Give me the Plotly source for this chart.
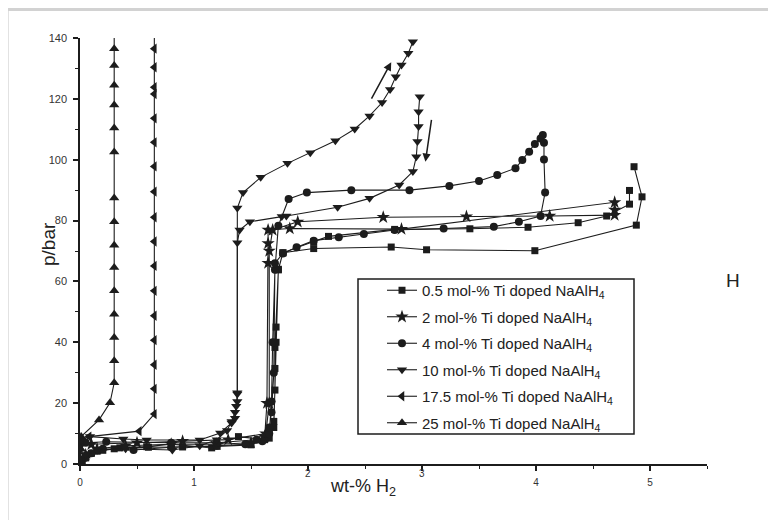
import plotly.graph_objects as go

# ---------------- data ----------------
series_names = [
    "0.5 mol-% Ti doped NaAlH<sub>4</sub>",
    "2 mol-% Ti doped NaAlH<sub>4</sub>",
    "4 mol-% Ti doped NaAlH<sub>4</sub>",
    "10 mol-% Ti doped NaAlH<sub>4</sub>",
    "17.5 mol-% Ti doped NaAlH<sub>4</sub>",
    "25 mol-% Ti doped NaAlH<sub>4</sub>",
]
series_symbols = ["square", "star", "circle", "triangle-down", "triangle-left", "triangle-up"]

ti05_x = [4.82, 4.82, 4.62, 4.37, 3.93, 3.42, 2.76, 2.18, 2.05, 1.78, 1.74, 1.72, 1.71, 1.71, 1.71, 1.70, 1.62,
          1.39, 1.155, 0.80, 0.585, 0.35, 0.20, 0.10, 0.05, 0.02,
          0.06, 0.15, 0.30, 0.60, 0.90, 1.20, 1.50, 1.66, 1.70, 1.72, 1.74, 1.78, 2.05, 2.73, 3.04, 3.99, 4.88, 4.93, 4.86]
ti05_y = [89.9, 85.4, 81.5, 79.3, 77.8, 77.3, 77.1, 74.8, 73.1, 69.4, 63.8, 45.0, 38.3, 31.4, 24.3, 14.0, 8.0,
          9.0, 5.3, 6.5, 5.7, 5.3, 4.5, 3.5, 2.0, 1.0,
          3.0, 4.2, 5.0, 5.5, 5.6, 5.8, 6.3, 8.5, 12.0, 40.0, 64.0, 69.4, 70.8, 71.3, 70.4, 70.1, 78.5, 87.8, 97.7]

ti2_x = [0.00, 0.05, 0.15, 0.40, 0.80, 1.20, 1.50, 1.62, 1.64, 1.65, 1.65, 1.65, 1.84, 2.82, 4.69,
         4.69, 4.69, 4.12, 3.39, 2.66, 1.91, 1.69, 1.66, 1.66, 1.63, 1.30, 0.90, 0.50, 0.10, 0.00]
ti2_y = [1.0, 3.0, 5.0, 6.0, 6.5, 6.5, 7.0, 9.0, 20.0, 66.0, 72.5, 76.9, 77.4, 77.2, 86.0,
         83.5, 81.8, 81.5, 81.3, 81.1, 79.6, 76.9, 70.0, 20.0, 10.0, 8.0, 7.5, 7.0, 6.5, 6.0]

ti4_x = [0.00, 0.04, 0.10, 0.20, 0.47, 0.80, 1.20, 1.45, 1.60, 1.66, 1.68, 1.69, 1.71, 1.74, 1.83, 1.99, 2.38,
         2.89, 3.24, 3.50, 3.66, 3.82, 3.88, 3.94, 3.99, 4.04, 4.06, 4.07, 4.07, 4.08, 4.04, 3.85, 3.63,
         3.19, 2.76, 2.49, 2.27, 2.05, 1.90, 1.78, 1.71, 1.70, 1.68, 1.66, 1.55, 1.20, 0.80, 0.23, 0.05, 0.00]
ti4_y = [0.5, 2.0, 3.5, 5.0, 4.6, 5.5, 6.0, 6.5, 7.5, 10.0, 20.5, 40.0, 63.8, 78.3, 87.1, 89.2, 90.0,
         90.0, 91.4, 93.0, 95.0, 97.2, 99.9, 102.6, 105.2, 107.0, 108.1, 105.6, 100.1, 89.2, 81.5, 79.6, 78.0,
         77.4, 76.9, 75.6, 74.5, 73.4, 71.2, 69.2, 66.0, 30.0, 17.0, 12.0, 8.0, 7.0, 7.0, 7.3, 7.0, 6.5]

ti10_x = [0.00, 0.05, 0.15, 0.40, 0.81, 1.05, 1.20, 1.29, 1.33, 1.36, 1.38, 1.38, 1.38, 1.43, 1.585, 1.82,
          2.02, 2.24, 2.41, 2.54, 2.65, 2.72, 2.77, 2.82, 2.88, 2.92, None,
          2.98, 2.97, 2.97, 2.96, 2.95, 2.92, 2.80, 2.54, 2.26, 1.81, 1.77, 1.49, 1.40, 1.38, 1.38, 1.37,
          1.36, 1.33, 1.23, 1.05, 0.585, 0.38, 0.088, 0.01]
ti10_y = [1.0, 3.0, 4.5, 5.0, 4.6, 6.0, 8.0, 11.0, 14.0, 17.0, 20.5, 23.4, 84.1, 89.2, 94.2, 98.8,
          102.3, 106.2, 110.1, 114.4, 118.8, 123.1, 127.3, 131.1, 135.0, 138.8, None,
          120.7, 115.8, 110.9, 106.0, 101.0, 96.1, 91.7, 87.3, 84.4, 81.5, 81.3, 79.6, 76.9, 72.7, 23.0, 19.0,
          15.0, 13.5, 10.2, 7.9, 7.9, 8.2, 9.0, 8.0]

ti175_x = [0.00, 0.005, 0.08, 0.52, 0.652, 0.652, 0.652, 0.652, 0.652, 0.652, 0.652, 0.652, 0.652, 0.652,
           0.652, 0.652, 0.652, 0.652, 0.652, 0.652, 0.652, 0.652]
ti175_y = [1.0, 5.0, 9.0, 10.8, 16.4, 24.7, 32.6, 40.7, 48.7, 56.9, 65.1, 73.1, 81.1, 89.5,
           97.8, 105.7, 113.6, 121.6, 123.8, 130.4, 136.5, 150.0]

ti25_x = [0.00, 0.005, 0.01, 0.167, 0.263, 0.30, 0.30, 0.30, 0.30, 0.30, 0.30, 0.30, 0.30, 0.30,
          0.30, 0.30, 0.30, 0.30, 0.30, 0.30, 0.30]
ti25_y = [1.0, 5.0, 9.0, 14.5, 20.1, 26.7, 33.9, 41.6, 49.2, 56.9, 64.6, 71.9, 79.6, 87.4,
          102.5, 110.4, 118.0, 124.5, 131.0, 136.5, 150.0]

series_x = [ti05_x, ti2_x, ti4_x, ti10_x, ti175_x, ti25_x]
series_y = [ti05_y, ti2_y, ti4_y, ti10_y, ti175_y, ti25_y]

x_ticks = [0, 1, 2, 3, 4, 5]
x_ticktext = ["0", "1", "", "", "4", "5"]
x_raised_labels = [2, 3]          # these two labels sit higher in the scanned original
y_ticks = [0, 20, 40, 60, 80, 100, 120, 140]

# arrows: (tail x, tail y, head x, head y)
arrow_up = (2.55, 119.6, 2.73, 132.0)
arrow_down = (3.085, 113.6, 3.03, 99.3)

# ---------------- figure ----------------
FONT = "Arial, Liberation Sans, Helvetica, sans-serif"
INK = "#1c1c1c"
marker_sizes = [7, 10, 8, 9, 9, 9]

fig = go.Figure()
for i, name in enumerate(series_names):
    fig.add_trace(go.Scatter(
        x=series_x[i], y=series_y[i], name=name, mode="lines+markers",
        line=dict(color=INK, width=1.1),
        marker=dict(symbol=series_symbols[i], size=marker_sizes[i], color=INK, line=dict(width=0)),
        connectgaps=False, legendgroup="g%d" % i, cliponaxis=True,
    ))

for tx, ty, hx, hy in (arrow_up, arrow_down):
    fig.add_annotation(x=hx, y=hy, ax=tx, ay=ty, xref="x", yref="y", axref="x", ayref="y",
                       showarrow=True, arrowhead=2, arrowsize=1.1, arrowwidth=1.5,
                       arrowcolor=INK, text="")

# plot area on screen: x 80..707, y 38..464 (the page body adds an 8px offset)
L, T, PW, PH = 72, 30, 627, 426
W, H = 776, 520


def sx(screen_x):
    return (screen_x - 80) / PW


def sy(screen_y):
    return (464 - screen_y) / PH


for v in x_raised_labels:
    fig.add_annotation(x=v, y=sy(473), xref="x", yref="paper", text=str(v), showarrow=False,
                       xanchor="center", yanchor="middle", font=dict(family=FONT, size=10, color="#333"))

# scan frame (gray shadow bands on top and left)
fig.add_shape(type="rect", xref="paper", yref="paper", x0=sx(0), x1=sx(800), y0=sy(11), y1=sy(0),
              fillcolor="#d2d2d2", line=dict(width=0), layer="below")
fig.add_shape(type="rect", xref="paper", yref="paper", x0=sx(0), x1=sx(9), y0=sy(530), y1=sy(11),
              fillcolor="#e2e2e2", line=dict(width=0), layer="below")

# legend box
fig.add_shape(type="rect", xref="paper", yref="paper", x0=sx(358), x1=sx(634), y0=sy(434), y1=sy(279),
              fillcolor="rgba(0,0,0,0)", line=dict(color=INK, width=1.5))

fig.add_annotation(x=sx(48), y=sy(244), xref="paper", yref="paper", text="p/bar", textangle=-90,
                   xanchor="center", yanchor="middle",
                   showarrow=False, font=dict(family=FONT, size=19, color="#222"))
fig.add_annotation(x=sx(363), y=sy(487), xref="paper", yref="paper", text="wt-% H<sub>2</sub>",
                   xanchor="center", yanchor="middle",
                   showarrow=False, font=dict(family=FONT, size=18, color="#222"))
fig.add_annotation(x=sx(733), y=sy(280), xref="paper", yref="paper", text="H",
                   xanchor="center", yanchor="middle",
                   showarrow=False, font=dict(family=FONT, size=19, color="#222"))

fig.update_layout(
    width=W, height=H,
    margin=dict(l=L, r=W - L - PW, t=T, b=H - T - PH),
    paper_bgcolor="white", plot_bgcolor="white",
    font=dict(family=FONT, color="#222"),
    legend=dict(x=sx(382), y=sy(274), xanchor="left", yanchor="top",
                bgcolor="rgba(0,0,0,0)", borderwidth=0, tracegroupgap=4,
                font=dict(family=FONT, size=15, color="#222")),
    xaxis=dict(range=[0, 5.5], tickvals=x_ticks, ticktext=x_ticktext,
               showgrid=False, zeroline=False, showline=True, linecolor=INK, linewidth=1.5,
               ticks="outside", ticklen=5, tickwidth=1.5, tickcolor=INK, ticklabelstandoff=3,
               tickfont=dict(family=FONT, size=10, color="#333"),
               minor=dict(dtick=0.5, tick0=0, ticks="outside", ticklen=3, tickwidth=1.2, tickcolor=INK)),
    yaxis=dict(range=[0, 140], tickvals=y_ticks, ticktext=[str(v) for v in y_ticks],
               showgrid=False, zeroline=False, showline=True, linecolor=INK, linewidth=1.5,
               ticks="outside", ticklen=5, tickwidth=1.5, tickcolor=INK, ticklabelstandoff=4,
               tickfont=dict(family=FONT, size=11, color="#333"),
               minor=dict(dtick=10, tick0=0, ticks="outside", ticklen=3, tickwidth=1.2, tickcolor=INK)),
)

fig.write_html("out.html")
